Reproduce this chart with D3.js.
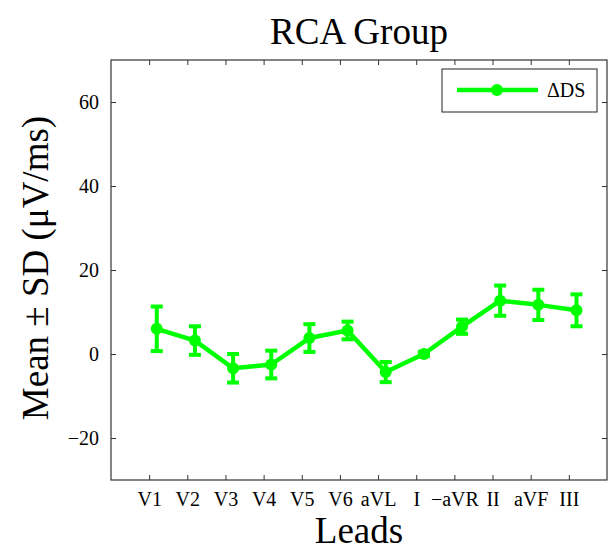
<!DOCTYPE html>
<html>
<head>
<meta charset="utf-8">
<script src="https://cdn.jsdelivr.net/npm/d3@7"></script>
<style>
  body { margin: 0; background: #fff; }
</style>
</head>
<body>
<div id="chart"></div>
<script>
var leads = ["V1", "V2", "V3", "V4", "V5", "V6", "aVL", "I", "\u2212aVR", "II", "aVF", "III"];
var meanDS = [6.0, 3.2, -3.4, -2.5, 3.8, 5.6, -4.3, 0.0, 6.5, 12.7, 11.7, 10.4];
var sdDS = [5.3, 3.4, 3.4, 3.3, 3.3, 2.1, 2.4, 0.5, 1.7, 3.6, 3.6, 3.8];
var yTicks = [-20, 0, 20, 40, 60];

var width = 608, height = 552;
var margin = {top: 60, right: 1, bottom: 72, left: 111};
var plotW = width - margin.left - margin.right,
    plotH = height - margin.top - margin.bottom;
var green = "#00ff00";
var serif = "'Liberation Serif', 'Times New Roman', serif";
var shift = 0.2; // series drawn slightly right of the tick

var x = d3.scaleLinear().domain([0, leads.length + 1]).range([0, plotW]);
var y = d3.scaleLinear().domain([-30, 70]).range([plotH, 0]);

var svg = d3.select("#chart").append("svg")
    .attr("width", width)
    .attr("height", height)
    .attr("font-family", serif);

svg.append("text")
    .attr("x", margin.left + plotW / 2)
    .attr("y", 44)
    .attr("text-anchor", "middle")
    .attr("font-size", 37)
    .text("RCA Group");

var g = svg.append("g")
    .attr("transform", "translate(" + margin.left + "," + margin.top + ")");

var tickIdx = leads.map(function(d, i) { return i + 1; });

// axes, ticks inward like matlab
g.append("g")
    .attr("transform", "translate(0," + plotH + ")")
    .call(d3.axisBottom(x).tickValues(tickIdx).tickSize(-5).tickPadding(12)
        .tickFormat(function(d) { return leads[d - 1]; }))
    .attr("font-family", serif).attr("font-size", 20)
    .call(function(a) { a.select(".domain").remove(); });
g.append("g")
    .call(d3.axisTop(x).tickValues(tickIdx).tickSize(-5).tickFormat(""))
    .call(function(a) { a.select(".domain").remove(); });
g.append("g")
    .call(d3.axisLeft(y).tickValues(yTicks).tickSize(-5).tickPadding(12)
        .tickFormat(function(d) { return d < 0 ? "\u2212" + Math.abs(d) : d; }))
    .attr("font-family", serif).attr("font-size", 20)
    .call(function(a) { a.select(".domain").remove(); });
g.append("g")
    .attr("transform", "translate(" + plotW + ",0)")
    .call(d3.axisRight(y).tickValues(yTicks).tickSize(-5).tickFormat(""))
    .call(function(a) { a.select(".domain").remove(); });
g.selectAll(".tick line").attr("stroke", "#333");
g.selectAll(".tick text").attr("fill", "#000");

g.append("rect")
    .attr("width", plotW)
    .attr("height", plotH)
    .attr("fill", "none")
    .attr("stroke", "#333")
    .attr("stroke-width", 1.2);

// error bars
var eb = g.selectAll(".eb").data(meanDS).enter().append("g").attr("class", "eb");
eb.append("line")
    .attr("x1", function(d, i) { return x(i + 1 + shift); })
    .attr("x2", function(d, i) { return x(i + 1 + shift); })
    .attr("y1", function(d, i) { return y(d - sdDS[i]); })
    .attr("y2", function(d, i) { return y(d + sdDS[i]); })
    .attr("stroke", green).attr("stroke-width", 4);
[-1, 1].forEach(function(s) {
    eb.append("line")
        .attr("x1", function(d, i) { return x(i + 1 + shift) - 6; })
        .attr("x2", function(d, i) { return x(i + 1 + shift) + 6; })
        .attr("y1", function(d, i) { return y(d + s * sdDS[i]); })
        .attr("y2", function(d, i) { return y(d + s * sdDS[i]); })
        .attr("stroke", green).attr("stroke-width", 4);
});

var line = d3.line()
    .x(function(d, i) { return x(i + 1 + shift); })
    .y(function(d) { return y(d); });
g.append("path")
    .datum(meanDS)
    .attr("d", line)
    .attr("fill", "none")
    .attr("stroke", green)
    .attr("stroke-width", 4.5)
    .attr("stroke-linejoin", "round");

g.selectAll(".dot").data(meanDS).enter().append("circle")
    .attr("class", "dot")
    .attr("cx", function(d, i) { return x(i + 1 + shift); })
    .attr("cy", function(d) { return y(d); })
    .attr("r", 6)
    .attr("fill", green);

// legend
var lg = svg.append("g");
lg.append("rect")
    .attr("x", 442).attr("y", 69)
    .attr("width", 155).attr("height", 43)
    .attr("fill", "#fff").attr("stroke", "#222").attr("stroke-width", 1);
lg.append("line")
    .attr("x1", 457).attr("x2", 538).attr("y1", 90).attr("y2", 90)
    .attr("stroke", green).attr("stroke-width", 4.5);
lg.append("circle").attr("cx", 497).attr("cy", 90).attr("r", 6).attr("fill", green);
lg.append("text")
    .attr("x", 547).attr("y", 97)
    .attr("font-size", 20)
    .text("\u0394DS");

// axis titles
svg.append("text")
    .attr("x", margin.left + plotW / 2)
    .attr("y", 543)
    .attr("text-anchor", "middle")
    .attr("font-size", 37)
    .text("Leads");
svg.append("text")
    .attr("transform", "translate(48," + 268 + ") rotate(-90)")
    .attr("text-anchor", "middle")
    .attr("font-size", 37)
    .text("Mean \u00b1 SD (\u03bcV/ms)");
</script>
</body>
</html>
